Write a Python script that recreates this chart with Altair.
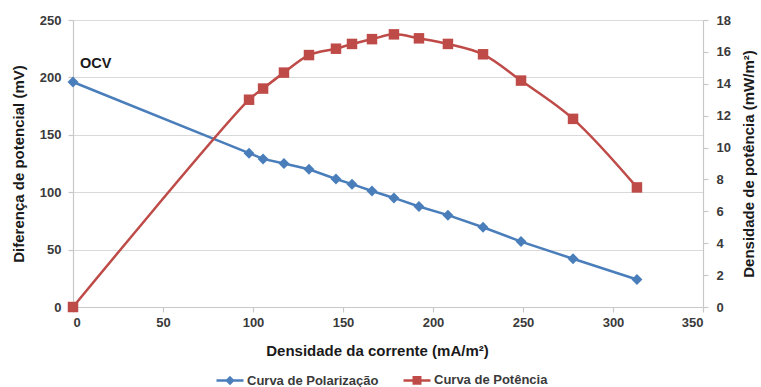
import altair as alt
import pandas as pd

# Current density (mA/m²), cell voltage (mV) and power density (mW/m²)
current = [0, 97.8, 105.6, 117.2, 131.1, 146.1, 155.0, 166.1, 178.3, 192.2, 208.3, 227.8, 248.9, 277.8, 313.3]
voltage = [196, 134, 129, 125, 120, 111.5, 107, 101, 95, 87.5, 80, 69.5, 57, 42, 24]
power = [0, 13.0, 13.7, 14.7, 15.8, 16.2, 16.5, 16.8, 17.1, 16.85, 16.5, 15.85, 14.2, 11.8, 7.5]

series_names = ["Curva de Polarização", "Curva de Potência"]
series_colors = ["#4a7ebb", "#be4b48"]
x_ticks = [0, 50, 100, 150, 200, 250, 300, 350]
left_ticks = [0, 50, 100, 150, 200, 250]
right_ticks = [0, 2, 4, 6, 8, 10, 12, 14, 16, 18]

df = pd.DataFrame({"current": current, "voltage": voltage, "power": power})
ocv = pd.DataFrame({"current": [current[0]], "voltage": [voltage[0]], "label": ["OCV"]})
legend_df = pd.DataFrame({"series": series_names, "current": [0, 0], "voltage": [0, 0]})

FONT = "Liberation Sans"
LABEL_COLOR = "#3a3a3a"
GRID = "#d9d9d9"

x_enc = alt.X(
    "current:Q",
    scale=alt.Scale(domain=[0, 350], nice=False),
    axis=alt.Axis(values=x_ticks, title="Densidade da corrente (mA/m²)", grid=False,
                  titlePadding=14, labelPadding=4, titleX=304),
)
y_left = alt.Y(
    "voltage:Q",
    scale=alt.Scale(domain=[0, 250], nice=False),
    axis=alt.Axis(values=left_ticks, title="Diferença de potencial (mV)", grid=True,
                  titlePadding=13, tickSize=5, labelPadding=7),
)
y_right = alt.Y(
    "power:Q",
    scale=alt.Scale(domain=[0, 18], nice=False),
    axis=alt.Axis(values=right_ticks, title="Densidade de potência (mW/m²)", orient="right",
                  grid=False, titlePadding=26, tickSize=5, labelPadding=8, titleAngle=270),
)

blue_line = alt.Chart(df).mark_line(color=series_colors[0], strokeWidth=2.5).encode(x=x_enc, y=y_left)
blue_pts = alt.Chart(df).mark_point(shape="diamond", filled=True, opacity=1, size=120,
                                    color=series_colors[0]).encode(x=x_enc, y=y_left)
ocv_text = alt.Chart(ocv).mark_text(text="OCV", align="left", baseline="middle", dx=7, dy=-18,
                                    font=FONT, fontSize=14.5, fontWeight="bold",
                                    color="#1a1a1a").encode(x=x_enc, y=y_left)

# Legend carrier: invisible points whose shapes are line-plus-marker paths
legend_layer = alt.Chart(legend_df).mark_point(opacity=0, strokeWidth=2.5).encode(
    x=x_enc,
    y=y_left,
    fill=alt.Fill("series:N", scale=alt.Scale(domain=series_names, range=series_colors), legend=None),
    stroke=alt.Stroke("series:N", scale=alt.Scale(domain=series_names, range=series_colors), legend=None),
    shape=alt.Shape(
        "series:N",
        scale=alt.Scale(domain=series_names, range=[
            "M-1,0H1M0,-0.22L0.22,0L0,0.22L-0.22,0Z",
            "M-1,0H1M-0.24,-0.24H0.24V0.24H-0.24Z",
        ]),
        legend=alt.Legend(title=None, orient="none", legendX=142, legendY=345, direction="horizontal",
                          symbolSize=729, symbolStrokeWidth=2.5, symbolOpacity=1,
                          labelFont=FONT, labelFontSize=13, labelFontWeight="bold",
                          labelColor=LABEL_COLOR, labelOffset=2, columnPadding=19, padding=0),
    ),
)

left = alt.layer(blue_line, blue_pts, ocv_text, legend_layer)

red_line = alt.Chart(df).mark_line(color=series_colors[1], strokeWidth=2.5,
                                   interpolate="catmull-rom").encode(x=x_enc, y=y_right)
red_pts = alt.Chart(df).mark_square(size=110, opacity=1, color=series_colors[1]).encode(x=x_enc, y=y_right)
right = alt.layer(red_line, red_pts)

chart = alt.layer(left, right).resolve_scale(y="independent").properties(
    width=630,
    height=287,
    autosize=alt.AutoSizeParams(type="none"),
    padding={"left": 73, "top": 20, "right": 58, "bottom": 80},
).configure_view(stroke=None).configure_axis(
    labelFont=FONT, labelFontSize=13, labelFontWeight="bold", labelColor=LABEL_COLOR,
    titleFont=FONT, titleFontSize=15, titleFontWeight="bold", titleColor="#1a1a1a",
    domainColor="#c8c8c8", tickColor="#c8c8c8", gridColor=GRID, gridWidth=1.2,
    domainWidth=1.2, tickWidth=1.2,
).configure_axisX(tickSize=5)

chart.save("out.html", embed_options={"renderer": "svg", "actions": False})
